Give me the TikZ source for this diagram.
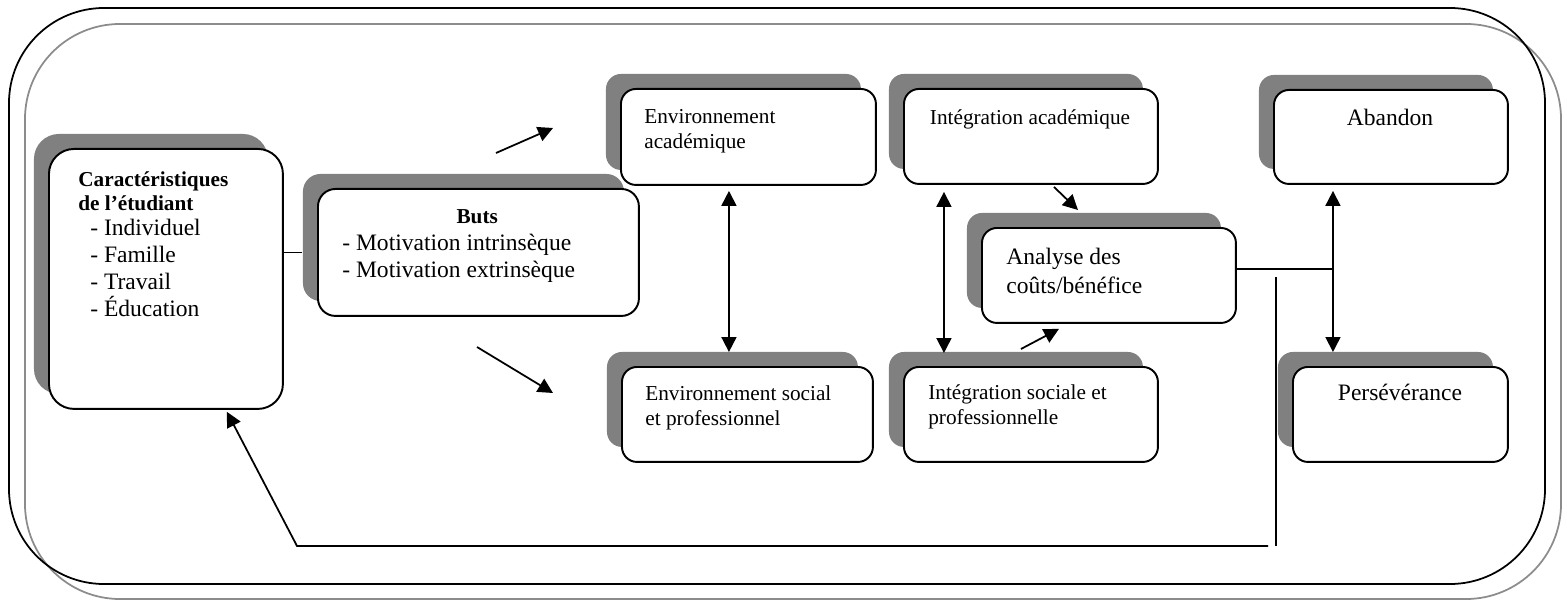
\documentclass[tikz,border=0pt]{standalone}
\usepackage{fontspec}
\setmainfont{Liberation Serif}
\usetikzlibrary{arrows.meta,shadows}

\definecolor{ombre}{RGB}{128,128,128}
\definecolor{cadregris}{RGB}{140,140,140}

\newcommand{\petit}{\fontsize{12.1}{14.2}\selectfont}
\newcommand{\grand}{\fontsize{13.4}{15.4}\selectfont}

\tikzset{
  >={Triangle[length=0.3cm,width=0.3cm]},
  boite/.style={draw, line width=1.1pt, rounded corners=0.3cm, fill=white,
    anchor=north west, inner sep=0pt,
    general shadow={fill=ombre, shadow xshift=-0.3cm, shadow yshift=0.3cm}},
  texte/.style={inner sep=0pt, align=left},
  lien/.style={line width=1pt},
}

\begin{document}
\begin{tikzpicture}[x=0.02cm, y=-0.02cm]
    \useasboundingbox (0,0) rectangle (1567,601);

    % cadres
    \draw[cadregris, line width=1pt, rounded corners=1.9cm] (25,24) rectangle (1561,599);
    \draw[line width=1pt, rounded corners=1.9cm] (9,8) rectangle (1545,584);

    % boites
    \node[boite, rounded corners=0.5cm, minimum width=4.68cm, minimum height=5.2cm] (car) at (48,148) {};
    \node[boite, rounded corners=0.35cm, minimum width=6.42cm, minimum height=2.54cm] (buts) at (317,188) {};
    \node[boite, minimum width=5.1cm, minimum height=1.92cm] (envA) at (620,88) {};
    \node[boite, minimum width=5.02cm, minimum height=1.9cm] (envS) at (621,366) {};
    \node[boite, minimum width=5.08cm, minimum height=1.9cm] (intA) at (903,88) {};
    \node[boite, minimum width=5.08cm, minimum height=1.9cm] (intS) at (903,366) {};
    \node[boite, minimum width=5.08cm, minimum height=1.9cm] (cout) at (981,227) {};
    \node[boite, minimum width=4.68cm, minimum height=1.88cm] (aban) at (1273,89) {};
    \node[boite, minimum width=4.3cm, minimum height=1.9cm] (pers) at (1292,366) {};

    % textes
    \node[texte, anchor=north west, font=\grand] (car-t) at (78,171)
        {{\bfseries\petit Caractéristiques}\\[-1.7pt]
         {\bfseries\petit de l’étudiant}\\[-1.2pt]
         \hspace*{6.8pt}- Individuel\\
         \hspace*{6.8pt}- Famille\\
         \hspace*{6.8pt}- Travail\\
         \hspace*{6.8pt}- Éducation};
    \node[texte, anchor=north west, font=\grand] (buts-t) at (342,209)
        {\hspace*{65pt}{\bfseries\petit Buts}\\
         - Motivation intrinsèque\\
         - Motivation extrinsèque};
    \node[texte, anchor=north west, font=\petit] (envA-t) at (644,109) {Environnement\\académique};
    \node[texte, anchor=north west, font=\petit] (envS-t) at (645,385) {Environnement social\\et professionnel};
    \node[texte, anchor=north, font=\petit] (intA-t) at (1030,109) {Intégration académique};
    \node[texte, anchor=north west, font=\petit] (intS-t) at (928,384) {Intégration sociale et\\professionnelle};
    \node[texte, anchor=north west, font=\fontsize{13.4}{16.4}\selectfont] (cout-t) at (1006,248) {Analyse des\\coûts/bénéfice};
    \node[texte, anchor=north, font=\grand] (aban-t) at (1390,109) {Abandon};
    \node[texte, anchor=north, font=\grand] (pers-t) at (1400,384) {Persévérance};

    % liens
    \draw[lien] (car.east |- buts.west) -- ([xshift=-0.3cm]buts.west);

    \coordinate (versA-d) at (496,153);
    \coordinate (versA-f) at (553,128);
    \coordinate (versS-d) at (477,347);
    \coordinate (versS-f) at (553,393);
    \draw[lien, ->] (versA-d) -- (versA-f);
    \draw[lien, ->] (versS-d) -- (versS-f);

    \draw[lien, <->] ([xshift=-0.39cm,yshift=-0.1cm]envA.south) -- ([xshift=-0.37cm,yshift=0.28cm]envS.north);
    \draw[lien, <->] ([xshift=-1.74cm,yshift=-0.14cm]intA.south) -- ([xshift=-1.74cm,yshift=0.26cm]intS.north);
    \draw[lien, ->] ([xshift=0.46cm,yshift=-0.04cm]intA.south) -- ([xshift=-0.62cm,yshift=0.34cm]cout.north);
    \draw[lien, ->] ([xshift=-0.2cm,yshift=0.34cm]intS.north) -- ([xshift=-1cm,yshift=-0.1cm]cout.south);

    \draw[lien] ([yshift=0.13cm]cout.east) -- ++(97,0);
    \draw[lien, <->] ([xshift=-1.16cm,yshift=-0.12cm]aban.south) -- ([xshift=-1.35cm,yshift=0.28cm]pers.north);

    % retour
    \coordinate (retour-haut) at (1276,277);
    \coordinate (retour-bas) at (1276,546);
    \draw[lien] (retour-haut) -- (retour-bas);
    \draw[lien, ->] ([xshift=-0.16cm]retour-bas) -- (297,546) -- ([xshift=1.22cm,yshift=-0.04cm]car.south);

\end{tikzpicture}
\end{document}
